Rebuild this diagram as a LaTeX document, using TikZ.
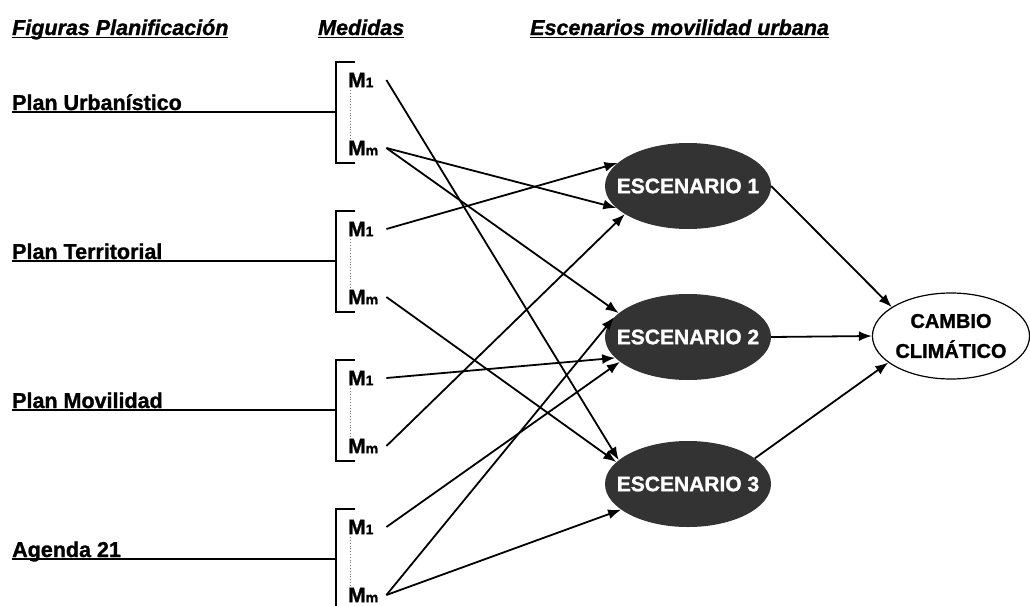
\documentclass[tikz,border=0pt]{standalone}
\usepackage{fontspec}
\setmainfont{Liberation Sans}[BoldFeatures={FakeBold=1.2}, BoldItalicFeatures={FakeBold=1.2}]
\usetikzlibrary{shapes.geometric, arrows.meta}

\definecolor{escfill}{HTML}{333333}
\newcommand{\subm}[1]{{\fontsize{14}{14}\selectfont #1}}
\newcommand{\subrayado}[1]{\setbox0=\hbox{#1}\rlap{\rule[-3pt]{\wd0}{1.4pt}}\box0}

\begin{document}
\begin{tikzpicture}[x=1pt, y=-1pt]

\tikzset{titulo/.style = {anchor=base west, inner sep=0, font=\fontsize{21.5}{21.5}\selectfont\bfseries\itshape}}
\tikzset{plan/.style = {anchor=base west, inner sep=0, font=\fontsize{21.5}{21.5}\selectfont\bfseries}}
\tikzset{medida/.style = {anchor=west, inner sep=0, text width=38pt, font=\fontsize{21}{21}\selectfont\bfseries}}
\tikzset{planline/.style = {line width=2.2pt}}
\tikzset{escenario/.style = {shape=ellipse, fill=escfill, text=white, inner sep=0, minimum width=166, minimum height=86, font=\fontsize{21}{21}\selectfont\bfseries}}
\tikzset{cambio/.style = {shape=ellipse, draw, line width=1.2pt, inner sep=0, align=center, minimum width=156, minimum height=86, font=\fontsize{20}{30}\selectfont\bfseries}}
\tikzset{edge/.style = {-{Latex[length=13pt,width=10pt]}, line width=1.8pt}}

\useasboundingbox (0,0) rectangle (1030,605);

%titles
\node[titulo] (t1) at (12,35) {\subrayado{Figuras Planificación}};
\node[titulo] (t2) at (318,35) {\subrayado{Medidas}};
\node[titulo] (t3) at (530,35) {\subrayado{Escenarios movilidad urbana}};

%plans and measures
\foreach \k/\l/\t in {pu/112/{Plan Urbanístico}, pt/261/{Plan Territorial}, pm/410/{Plan Movilidad}, ag/559/{Agenda 21}} {
  \node[plan] (\k) at (12,\l-2) {\t};
  \coordinate (\k b) at (336,\l);
  \node[medida] (\k 1) at (348,\l-32) {M\subm{1}};
  \node[medida] (\k m) at (348,\l+36) {M\subm{m}};
  \draw[planline] (\k.base west) ++(0,2) -- (\k b);
  \draw[planline] (355,\l-50) -| (336,\l+51) -- (355,\l+51);
  \draw[dotted, gray, line width=0.8pt] ([xshift=2pt]\k 1.south west) -- ([xshift=2pt]\k m.north west);
}

%scenarios
\node[escenario] (e1) at (688,186) {\makebox[0pt]{ESCENARIO 1}};
\node[escenario] (e2) at (688,337) {\makebox[0pt]{ESCENARIO 2}};
\node[escenario] (e3) at (688,484) {\makebox[0pt]{ESCENARIO 3}};
\node[cambio] (cc) at (951,336) {CAMBIO\\CLIMÁTICO};

%edges
\draw[edge] (pu1.east) -- (e3.161);
\draw[edge] (pum.east) -- (e1.197);
\draw[edge] (pum.east) -- (e2.161);
\draw[edge] (pt1.east) -- (e1.162);
\draw[edge] (ptm.east) -- (e3.163);
\draw[edge] (pm1.east) -- (e2.196);
\draw[edge] (pmm.east) -- (e1.204);
\draw[edge] (ag1.east) -- (e2.200);
\draw[edge] (agm.east) -- (e2.165);
\draw[edge] (agm.east) -- (e3.201);
\draw[edge] (e1.east) -- (cc.154);
\draw[edge] (e2.east) -- (cc.west);
\draw[edge] (e3.21) -- (cc.203);

\end{tikzpicture}
\end{document}
